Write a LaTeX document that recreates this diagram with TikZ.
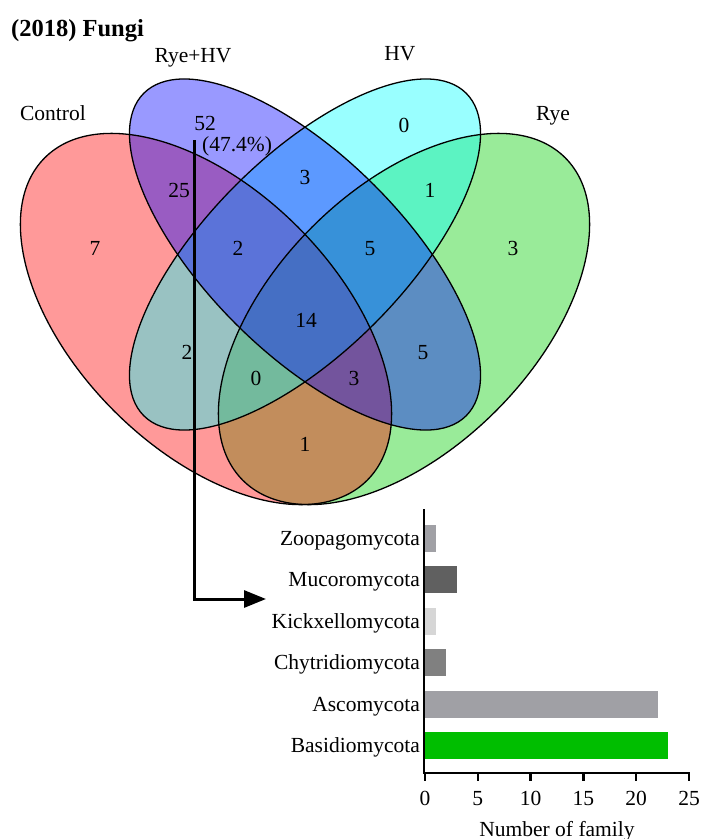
\documentclass[tikz,border=0pt]{standalone}
\usepackage{fontspec}
\setmainfont{Liberation Serif}
\usepackage{xcolor}
\definecolor{ryecol}{RGB}{0,205,0}
\definecolor{ctrlcol}{RGB}{255,0,0}
\definecolor{hvcol}{RGB}{0,255,255}
\definecolor{ryehvcol}{RGB}{0,0,255}
\definecolor{barlight}{RGB}{160,160,165}
\definecolor{bardark}{RGB}{96,96,96}
\definecolor{barpale}{RGB}{214,214,214}
\definecolor{barmid}{RGB}{128,128,128}
\definecolor{bargreen}{RGB}{0,190,0}
\usepackage{tikz}
\usetikzlibrary{arrows.meta,positioning}
\tikzset{
  setfill/.style={fill opacity=0.4},
  setline/.style={draw=black,line width=1.3pt},
  setlab/.style={font=\fontsize{21.5}{26}\selectfont,inner sep=0pt,%
    text height=14pt,text depth=0pt},
  count/.style={setlab},
  bar/.style={anchor=west,inner sep=0pt,minimum height=27pt},
  phylum/.style={setlab},
  ticklab/.style={font=\fontsize{21.5}{26}\selectfont,inner sep=0pt,anchor=base},
  axisline/.style={line width=2.5pt},
  link/.style={-{Triangle[length=22pt,width=17pt]},line width=3pt},
}

\begin{document}
\begin{tikzpicture}[x=1pt,y=-1pt]
\useasboundingbox (0,0) rectangle (702,839);
\node[anchor=base west,font=\bfseries\fontsize{24.5}{29}\selectfont,inner sep=0pt] (title) at (11,36.5) {(2018) Fungi};
% venn sets
\fill[ryecol,setfill,rotate around={45:(404,319)}] (404,319) ellipse [x radius=228,y radius=130];
\fill[ctrlcol,setfill,rotate around={-45:(206,319)}] (206,319) ellipse [x radius=228,y radius=130];
\fill[hvcol,setfill,rotate around={45:(305,254.5)}] (305,254.5) ellipse [x radius=228,y radius=98];
\fill[ryehvcol,setfill,rotate around={-45:(305,254.5)}] (305,254.5) ellipse [x radius=228,y radius=98];
\draw[setline,rotate around={45:(404,319)}] (404,319) ellipse [x radius=228,y radius=130];
\draw[setline,rotate around={-45:(206,319)}] (206,319) ellipse [x radius=228,y radius=130];
\draw[setline,rotate around={45:(305,254.5)}] (305,254.5) ellipse [x radius=228,y radius=98];
\draw[setline,rotate around={-45:(305,254.5)}] (305,254.5) ellipse [x radius=228,y radius=98];
\node[setlab] (ctrl)  at (53,113)  {Control};
\node[setlab] (ryehv) at (193,55)  {Rye+HV};
\node[setlab] (hv)    at (400,53)  {HV};
\node[setlab] (rye)   at (553,113) {Rye};
\node[count] (n52)  at (205,123.5) {52};
\node[count,text depth=5pt,anchor=base west] (pct) at (202,151) {(47.4\%)};
\node[count] (n0a)  at (404,125) {0};
\node[count] (n3a)  at (305,177) {3};
\node[count] (n1a)  at (430,190) {1};
\node[count] (n25)  at (179,190) {25};
\node[count] (n7)   at (95,248)  {7};
\node[count] (n2a)  at (238,248) {2};
\node[count] (n5a)  at (370,248) {5};
\node[count] (n3b)  at (513,248) {3};
\node[count] (n14)  at (306,320) {14};
\node[count] (n2b)  at (187,352) {2};
\node[count] (n5b)  at (423,352) {5};
\node[count] (n0b)  at (256,378) {0};
\node[count] (n3c)  at (354,378) {3};
\node[count] (n1b)  at (305,444) {1};
% bar chart
\coordinate (origin) at (424,773);
\node[bar,fill=barlight,minimum width=10.6pt]  (zoo) at (425,538.5) {};
\node[bar,fill=bardark,minimum width=31.7pt]   (muc) at (425,579.9) {};
\node[bar,fill=barpale,minimum width=10.6pt]   (kic) at (425,621.3) {};
\node[bar,fill=barmid,minimum width=21.1pt]    (chy) at (425,662.7) {};
\node[bar,fill=barlight,minimum width=232.3pt] (asc) at (425,704.1) {};
\node[bar,fill=bargreen,minimum width=242.9pt] (bas) at (425,745.5) {};
\node[phylum,left=5pt of zoo] (zoolab) {Zoopagomycota};
\node[phylum,left=5pt of muc] (muclab) {Mucoromycota};
\node[phylum,left=5pt of kic] (kiclab) {Kickxellomycota};
\node[phylum,left=5pt of chy] (chylab) {Chytridiomycota};
\node[phylum,left=5pt of asc] (asclab) {Ascomycota};
\node[phylum,left=5pt of bas] (baslab) {Basidiomycota};
\draw[axisline] (424,509) -- (origin) -- (690,773);
\foreach \t in {0,5,...,25} {
  \draw[axisline] ({425+10.56*\t},773) -- ++(0,8);
  \node[ticklab] (tick\t) at ({425+10.56*\t},805) {\t};
}
\node[ticklab] (xlab) at (557,836) {Number of family};
% link from Rye+HV to phyla
\coordinate (arrtop) at (194,140);
\coordinate (arrtip) at (266,599);
\draw[link] (arrtop) |- (arrtip);
\end{tikzpicture}
\end{document}
